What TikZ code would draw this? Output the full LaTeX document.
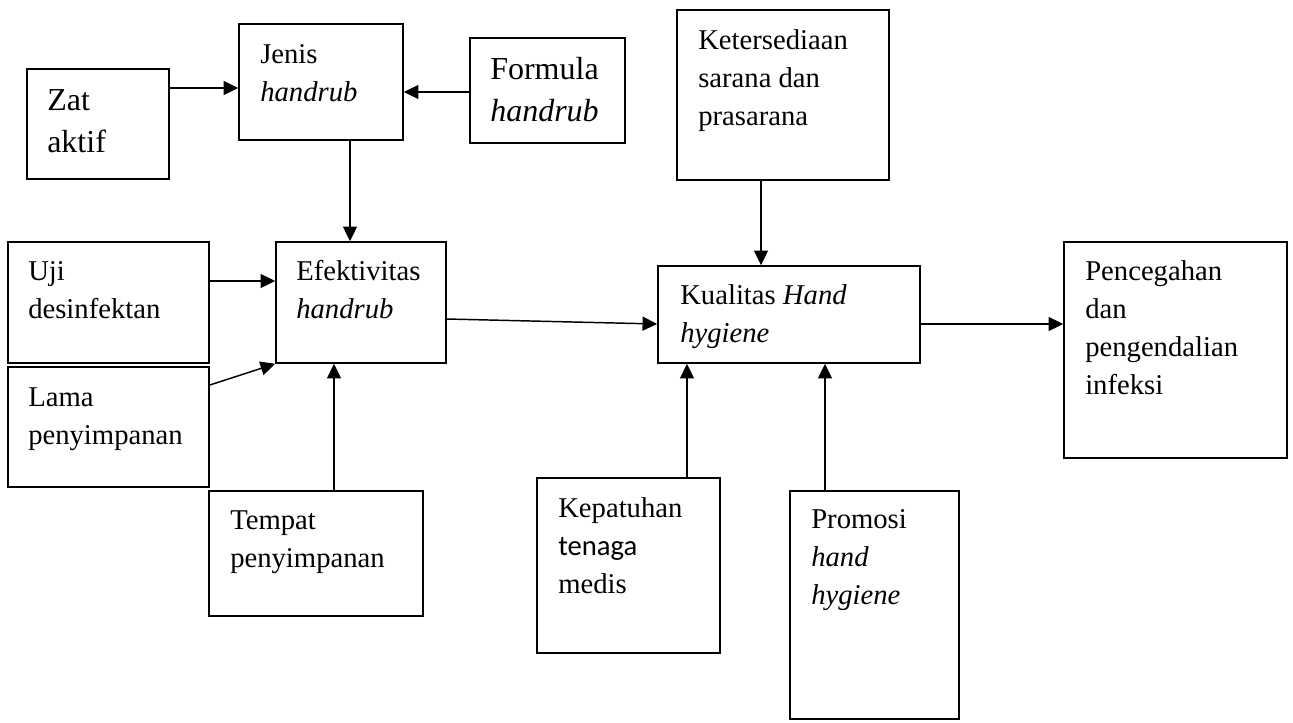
\documentclass[tikz,border=0pt]{standalone}
\usepackage{fontspec}
\setmainfont{Liberation Serif}
\newfontfamily\calibrifont{Carlito}
\usetikzlibrary{arrows.meta,fit}
\newcommand\fstrut{\rule{0pt}{16pt}}
\newcommand\bstrut{\rule{0pt}{18pt}}
\begin{document}
\begin{tikzpicture}[x=0.75pt,y=-0.75pt,
  box/.style={draw, line width=1.2pt, inner sep=0pt, rectangle},
  txt/.style={anchor=north west, inner sep=0pt, align=left, font=\fontsize{21.5}{28.5}\selectfont},
  bigtxt/.style={anchor=north west, inner sep=0pt, align=left, font=\fontsize{24}{31.5}\selectfont},
  arr/.style={line width=1.1pt, -{Triangle[length=11pt,width=10.5pt]}}]
\useasboundingbox (0,0) rectangle (1293,722);

% boxes
\node[box, fit={(27,69) (169,179)}] (zat) {};
\node[box, fit={(239,24) (403,140)}] (jenis) {};
\node[box, fit={(470,38) (625,143)}] (formula) {};
\node[box, fit={(677,10) (889,180)}] (keters) {};
\node[box, fit={(8,242) (209,363)}] (uji) {};
\node[box, fit={(8,367) (209,487)}] (lama) {};
\node[box, fit={(276,242) (446,363)}] (efek) {};
\node[box, fit={(209,491) (423,616)}] (tempat) {};
\node[box, fit={(658,266) (920,363)}] (kual) {};
\node[box, fit={(1064,242) (1287,458)}] (pence) {};
\node[box, fit={(537,478) (720,653)}] (kepat) {};
\node[box, fit={(790,491) (959,719)}] (promo) {};

% texts
\node[bigtxt] (zatT) at (47,86) {\bstrut Zat\\aktif};
\node[txt] (jenisT) at (260,41.67) {\fstrut Jenis\\\textit{handrub}};
\node[bigtxt] (formulaT) at (490,55) {\bstrut Formula\\\textit{handrub}};
\node[txt] (ketersT) at (698,27.67) {\fstrut Ketersediaan\\sarana dan\\prasarana};
\node[txt] (ujiT) at (28,258.67) {\fstrut Uji\\desinfektan};
\node[txt] (lamaT) at (28,384.67) {\fstrut Lama\\penyimpanan};
\node[txt] (efekT) at (296,258.67) {\fstrut Efektivitas\\\textit{handrub}};
\node[txt] (tempatT) at (230,507.67) {\fstrut Tempat\\penyimpanan};
\node[txt] (kualT) at (680,282.67) {\fstrut Kualitas \textit{Hand}\\\textit{hygiene}};
\node[txt] (penceT) at (1085,258.67) {\fstrut Pencegahan\\dan\\pengendalian\\infeksi};
\node[txt] (kepatT) at (558,495.67) {\fstrut Kepatuhan\\{\calibrifont tenaga}\\medis};
\node[txt] (promoT) at (811,506.67) {\fstrut Promosi\\\textit{hand}\\\textit{hygiene}};

% helper coordinates
\coordinate (h88) at (0,88);
\coordinate (h92) at (0,92);
\coordinate (h281) at (0,281);
\coordinate (h385) at (0,385);
\coordinate (h319) at (0,319);
\coordinate (h324) at (0,324);
\coordinate (v350) at (350,0);
\coordinate (v334) at (334,0);
\coordinate (v761) at (761,0);
\coordinate (v687) at (687,0);
\coordinate (v825) at (825,0);

% connectors
\draw[arr] (zat.east |- h88) -- (jenis.west |- h88);
\draw[arr] (formula.west |- h92) -- (jenis.east |- h92);
\draw[arr] (jenis.south -| v350) -- (efek.north -| v350);
\draw[arr] (uji.east |- h281) -- (efek.west |- h281);
\draw[arr] (lama.east |- h385) -- (efek.south west);
\draw[arr] (tempat.north -| v334) -- (efek.south -| v334);
\draw[arr] (efek.east |- h319) -- (kual.west |- h324);
\draw[arr] (keters.south -| v761) -- (kual.north -| v761);
\draw[arr] (kual.east |- h324) -- (pence.west |- h324);
\draw[arr] (kepat.north -| v687) -- (kual.south -| v687);
\draw[arr] (promo.north -| v825) -- (kual.south -| v825);
\end{tikzpicture}
\end{document}
